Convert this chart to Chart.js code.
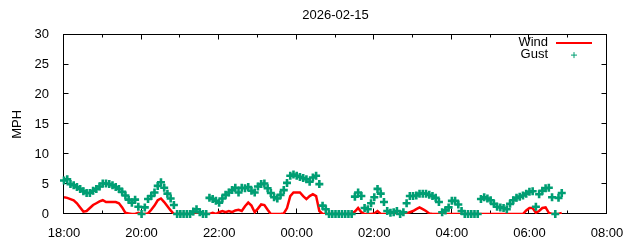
<!DOCTYPE html>
<html>
<head>
<meta charset="utf-8">
<script src="https://cdn.jsdelivr.net/npm/chart.js@4/dist/chart.umd.min.js"></script>
<style>
  body { margin: 0; background: #fff; }
  canvas { display: block; }
</style>
</head>
<body>
<canvas id="windChart" width="640" height="240"></canvas>
<script>
const chartTitle = '2026-02-15';

// 5 minute samples, 18:00 .. 06:50
const times = [
    '18:00','18:05','18:10','18:15','18:20','18:25','18:30','18:35','18:40','18:45','18:50','18:55',
    '19:00','19:05','19:10','19:15','19:20','19:25','19:30','19:35','19:40','19:45','19:50','19:55',
    '20:00','20:05','20:10','20:15','20:20','20:25','20:30','20:35','20:40','20:45','20:50','20:55',
    '21:00','21:05','21:10','21:15','21:20','21:25','21:30','21:35','21:40','21:45','21:50','21:55',
    '22:00','22:05','22:10','22:15','22:20','22:25','22:30','22:35','22:40','22:45','22:50','22:55',
    '23:00','23:05','23:10','23:15','23:20','23:25','23:30','23:35','23:40','23:45','23:50','23:55',
    '00:00','00:05','00:10','00:15','00:20','00:25','00:30','00:35','00:40','00:45','00:50','00:55',
    '01:00','01:05','01:10','01:15','01:20','01:25','01:30','01:35','01:40','01:45','01:50','01:55',
    '02:00','02:05','02:10','02:15','02:20','02:25','02:30','02:35','02:40','02:45','02:50','02:55',
    '03:00','03:05','03:10','03:15','03:20','03:25','03:30','03:35','03:40','03:45','03:50','03:55',
    '04:00','04:05','04:10','04:15','04:20','04:25','04:30','04:35','04:40','04:45','04:50','04:55',
    '05:00','05:05','05:10','05:15','05:20','05:25','05:30','05:35','05:40','05:45','05:50','05:55',
    '06:00','06:05','06:10','06:15','06:20','06:25','06:30','06:35','06:40','06:45','06:50'
];

const wind = [
    2.8, 2.7, 2.5, 2.3, 1.8, 1.1, 0.4, 0.5, 1.0, 1.5, 1.8, 2.1,
    2.3, 2.0, 2.0, 2.0, 2.0, 1.8, 1.1, 0.2, 0.1, 0, 0, 0.2,
    0, 0, 0.1, 0.7, 1.4, 2.3, 2.6, 2.0, 1.3, 0.6, 0, 0,
    0, 0, 0, 0, 0, 0, 0, 0, 0, 0, 0.2, 0,
    0.3, 0.5, 0.3, 0.5, 0.3, 0.6, 0.7, 0.5, 1.3, 1.9, 1.4, 0.3,
    0.9, 1.6, 1.5, 0.7, 0, 0, 0, 0, 0.1, 1.0, 3.0, 3.6,
    3.6, 3.6, 3.0, 2.5, 3.0, 3.3, 3.0, 0.5, 0, 0, 0, 0,
    0, 0, 0, 0, 0, 0, 0.4, 1.0, 0.3, 0, 0, 0,
    0.1, 0.5, 0, 0, 0, 0, 0, 0, 0, 0, 0.1, 0.3,
    0.5, 0.8, 1.1, 0.8, 0.5, 0.1, 0, 0, 0, 0, 0, 0,
    0, 0, 0, 0, 0, 0, 0, 0, 0, 0, 0, 0,
    0, 0, 0, 0, 0, 0, 0, 0, 0, 0, 0,
    0.6, 1.0, 1.0, 0.2, 0.5, 1.0, 1.1, 0.2, 0, 0, 0, 0.2
];

const gust = [
    5.6, 5.8, 5.0, 4.8, 4.5, 4.2, 3.8, 3.5, 3.5, 3.9, 4.2, 4.6,
    5.1, 5.1, 5.0, 4.8, 4.5, 4.2, 3.7, 3.1, 2.4, 1.9, 2.4, 1.2,
    0, 1.1, 2.5, 3.0, 3.6, 4.7, 5.3, 4.4, 3.4, 2.6, 1.5, 0,
    0, 0, 0, 0, 0.4, 0.8, 0.3, 0, 0, 2.7, 2.5, 2.2,
    1.9, 2.6, 3.2, 3.6, 4.0, 4.4, 3.6, 4.4, 4.3, 4.5, 3.9, 3.6,
    4.6, 5.0, 5.1, 4.3, 3.5, 2.8, 2.6, 3.2, 4.0, 5.2, 6.4, 6.6,
    6.4, 6.2, 6.0, 5.8, 5.4, 6.1, 6.4, 5.0, 1.4, 0.8, 0, 0,
    0, 0, 0, 0, 0, 0, 2.9, 3.6, 3.0, 1.0, 0.8, 1.8,
    2.8, 4.2, 3.4, 2.0, 0.5, 0.2, 0.3, 0.5, 0, 0.3, 1.8, 3.0,
    3.0, 3.1, 3.4, 3.4, 3.4, 3.2, 3.0, 2.7, 2.0, 0.3, 0.6, 1.1,
    2.2, 2.2, 1.6, 0.5, 0, 0, 0, 0, 0, 2.5, 2.8, 2.6,
    2.3, 1.7, 1.2, 1.1, 1.0, 0.8, 1.7, 2.3, 2.7, 2.9, 3.1, 3.4,
    3.7, 3.8, 1.2, 3.3, 3.9, 4.3, 4.4, 2.8, 0, 2.7, 3.5
];

const xTickLabels = ['18:00', '20:00', '22:00', '00:00', '02:00', '04:00', '06:00', '08:00'];
const yTicks = [0, 5, 10, 15, 20, 25, 30];

const WIND_COLOR = '#ff0000';
const GUST_COLOR = '#009e73';
const FONT = { family: "'Liberation Sans', Arial, sans-serif", size: 13 };

// minutes after 18:00
function toMinutes(t){
    const [h, m] = t.split(':').map(Number);
    let mins = h * 60 + m - 18 * 60;
    if (mins < 0)
        mins += 24 * 60;
    return mins;
}

function toPoints(values){
    return values.map((v, i) => ({ x: toMinutes(times[i]), y: v }));
}

// gnuplot style box with small inward ticks on all four sides
const framePlugin = {
    id: 'frame',
    beforeDatasetsDraw(chart){
        const { ctx, chartArea: a, scales: { x, y } } = chart;
        ctx.save();
        ctx.strokeStyle = '#000';
        ctx.lineWidth = 1;
        const l = Math.round(a.left) - 0.5, r = Math.round(a.right) - 0.5;
        const t = Math.round(a.top) - 0.5, b = Math.round(a.bottom) - 0.5;
        ctx.strokeRect(l, t, r - l, b - t);
        ctx.beginPath();
        x.ticks.forEach(tick => {
            const px = Math.round(x.getPixelForValue(tick.value)) - 0.5;
            const len = tick.value % 120 === 0 ? 5 : 3;
            ctx.moveTo(px, b); ctx.lineTo(px, b - len);
            ctx.moveTo(px, t); ctx.lineTo(px, t + len);
        });
        y.ticks.forEach(tick => {
            const py = Math.round(y.getPixelForValue(tick.value)) - 0.5;
            ctx.moveTo(l, py); ctx.lineTo(l + 5, py);
            ctx.moveTo(r, py); ctx.lineTo(r - 5, py);
        });
        ctx.stroke();
        ctx.restore();
    }
};

const keyPlugin = {
    id: 'key',
    afterDraw(chart){
        const { ctx, chartArea: a } = chart;
        const textRight = a.right - 59;
        const sampleLeft = a.right - 51, sampleRight = a.right - 15;
        ctx.save();
        ctx.font = `${FONT.size}px ${FONT.family}`;
        ctx.fillStyle = '#000';
        ctx.textAlign = 'right';
        ctx.textBaseline = 'middle';
        ctx.fillText('Wind', textRight, a.top + 8);
        ctx.fillText('Gust', textRight, a.top + 19.5);

        ctx.strokeStyle = WIND_COLOR;
        ctx.lineWidth = 2;
        ctx.beginPath();
        ctx.moveTo(sampleLeft, a.top + 8.5);
        ctx.lineTo(sampleRight, a.top + 8.5);
        ctx.stroke();

        ctx.strokeStyle = GUST_COLOR;
        ctx.lineWidth = 1;
        Chart.helpers.drawPoint(ctx, {
            pointStyle: 'cross', radius: 3, rotation: 0, borderWidth: 1
        }, (sampleLeft + sampleRight) / 2, a.top + 20.5);
        ctx.restore();
    }
};

function setGraph(){
    const config = {
        type: 'line',
        data: {
            datasets: [{
                label: 'Wind',
                data: toPoints(wind),
                borderColor: WIND_COLOR,
                backgroundColor: WIND_COLOR,
                borderWidth: 2.5,
                pointRadius: 0,
                tension: 0,
                order: 1
            }, {
                label: 'Gust',
                data: toPoints(gust),
                showLine: false,
                pointStyle: 'cross',
                pointRadius: 4,
                pointBorderWidth: 2.6,
                borderColor: GUST_COLOR,
                backgroundColor: GUST_COLOR,
                clip: false,
                order: 0
            }]
        },
        options: {
            responsive: false,
            animation: false,
            layout: { padding: { left: 0, right: 33, top: 0, bottom: 0 } },
            plugins: {
                legend: { display: false },
                tooltip: { enabled: false },
                title: {
                    display: true,
                    text: chartTitle,
                    fullSize: false,
                    color: '#000',
                    font: { ...FONT, weight: 'normal' },
                    padding: { top: 8, bottom: 11 }
                }
            },
            scales: {
                x: {
                    type: 'linear',
                    min: 0,
                    max: 840,
                    grid: { display: false },
                    border: { display: false },
                    ticks: {
                        stepSize: 60,
                        autoSkip: false,
                        maxRotation: 0,
                        padding: 4,
                        color: '#000',
                        font: FONT,
                        callback: v => v % 120 === 0 ? xTickLabels[v / 120] : ''
                    },
                    afterFit: scale => { scale.height = 26; }
                },
                y: {
                    min: yTicks[0],
                    max: yTicks[yTicks.length - 1],
                    grid: { display: false },
                    border: { display: false },
                    ticks: {
                        stepSize: 5,
                        padding: 7,
                        color: '#000',
                        font: FONT
                    },
                    title: {
                        display: true,
                        text: 'MPH',
                        color: '#000',
                        font: FONT,
                        padding: { top: 10, bottom: 0 }
                    },
                    afterFit: scale => { scale.width = 64; }
                }
            }
        },
        plugins: [framePlugin, keyPlugin]
    };

    const ctx = document.getElementById('windChart').getContext('2d');
    return new Chart(ctx, config);
}

Chart.defaults.font.family = FONT.family;
setGraph();
</script>
</body>
</html>
